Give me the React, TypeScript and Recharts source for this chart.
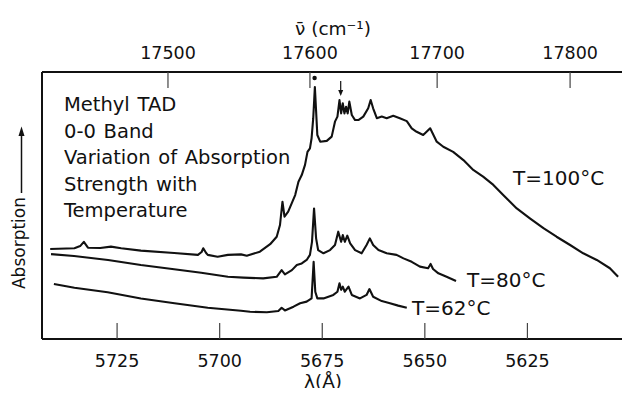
import React from 'react';
import { LineChart, Line, XAxis, YAxis } from 'recharts';

const FONT = '"DejaVu Sans", sans-serif';
const INK = '#111';

// wavelength (Å) and absorption (arb. units, 0..100 = frame height)
const lam100 = [5741.3, 5735.4, 5734.0, 5733.1, 5732.1, 5729.1, 5726.5, 5724.0, 5719.2, 5711.1, 5705.3, 5704.4, 5704.0, 5703.3, 5702.9, 5700.5, 5698.0, 5694.8, 5693.4, 5690.2, 5687.7, 5686.1, 5685.3, 5684.7, 5684.2, 5683.3, 5681.6, 5680.8, 5680.0, 5679.2, 5678.6, 5678.0, 5677.6, 5677.2, 5676.8, 5676.2, 5675.5, 5673.9, 5672.7, 5671.9, 5671.3, 5670.8, 5670.4, 5670.0, 5669.6, 5669.2, 5668.8, 5668.4, 5667.8, 5667.0, 5666.2, 5665.0, 5663.8, 5663.2, 5662.6, 5661.7, 5660.5, 5659.3, 5657.7, 5656.1, 5654.4, 5653.2, 5652.0, 5650.4, 5648.7, 5647.1, 5645.5, 5643.1, 5640.6, 5638.2, 5635.8, 5633.3, 5630.9, 5627.6, 5624.4, 5621.1, 5617.9, 5614.6, 5611.4, 5608.1, 5604.9, 5602.9];
const abs100 = [33.7, 34.0, 34.8, 36.4, 34.2, 34.1, 34.6, 34.0, 33.1, 32.2, 31.5, 32.6, 34.0, 32.2, 31.5, 30.8, 31.5, 31.7, 31.2, 32.7, 35.5, 38.3, 42.7, 51.4, 45.8, 47.7, 53.9, 58.9, 61.4, 65.2, 70.1, 71.4, 75.2, 82.7, 94.4, 76.4, 73.9, 74.2, 75.8, 81.4, 83.3, 89.5, 84.5, 88.3, 84.5, 87.0, 84.5, 88.9, 83.9, 82.0, 82.0, 83.3, 86.4, 89.5, 86.4, 82.7, 83.3, 82.7, 83.6, 82.7, 81.6, 78.9, 77.6, 76.4, 78.9, 73.9, 72.0, 70.1, 67.0, 63.3, 60.8, 57.7, 53.9, 48.9, 45.2, 41.5, 38.3, 35.2, 32.1, 29.6, 26.5, 23.3];

const lam80 = [5741.1, 5735.5, 5727.2, 5719.2, 5711.1, 5704.5, 5698.0, 5694.2, 5689.4, 5686.1, 5684.9, 5684.1, 5682.4, 5681.2, 5680.0, 5678.8, 5678.0, 5677.5, 5677.0, 5676.5, 5676.0, 5674.7, 5673.1, 5671.9, 5671.1, 5670.4, 5670.0, 5669.5, 5668.9, 5668.2, 5667.0, 5665.4, 5664.2, 5663.4, 5662.6, 5661.3, 5659.3, 5656.9, 5655.2, 5653.2, 5651.2, 5649.2, 5648.6, 5648.0, 5646.7, 5644.7, 5642.4];
const abs80 = [31.8, 31.1, 29.6, 27.7, 26.1, 24.8, 23.3, 23.0, 22.7, 23.3, 25.8, 24.2, 25.8, 27.7, 28.3, 29.6, 31.5, 36.4, 48.9, 37.7, 33.3, 32.1, 33.3, 35.2, 40.2, 36.4, 38.9, 36.4, 38.7, 35.8, 33.3, 32.1, 35.2, 37.7, 35.2, 33.3, 32.1, 31.5, 30.2, 28.9, 27.1, 26.5, 28.1, 26.2, 24.6, 23.3, 21.7];

const lam62 = [5740.4, 5735.4, 5727.3, 5719.2, 5711.0, 5702.9, 5694.8, 5692.6, 5688.5, 5685.7, 5684.9, 5684.1, 5682.0, 5680.4, 5678.8, 5677.6, 5677.1, 5676.7, 5676.2, 5674.7, 5672.3, 5671.3, 5670.8, 5670.4, 5670.0, 5669.5, 5668.6, 5667.8, 5665.8, 5664.2, 5663.5, 5662.6, 5660.5, 5658.5, 5656.5, 5654.4];
const abs62 = [20.6, 19.2, 17.5, 15.2, 13.4, 11.7, 10.6, 10.2, 10.0, 10.5, 11.7, 10.7, 12.1, 13.4, 14.0, 15.2, 28.9, 17.7, 15.2, 15.2, 16.5, 17.7, 20.9, 18.4, 19.6, 17.7, 19.6, 16.5, 15.2, 16.5, 18.7, 15.8, 14.2, 13.4, 12.5, 11.7];

const lamTicks = [5725, 5700, 5675, 5650, 5625];
// wavenumber labels of the top scale and the wavelengths where their ticks sit
const nuLabels = ['17500', '17600', '17700', '17800'];
const nuTickLam = [5712.6, 5678.0, 5647.0, 5614.6];
const noteLines = ['Methyl TAD', '0-0 Band', 'Variation of Absorption', 'Strength with', 'Temperature'];
const seriesLabels = ['T=100°C', 'T=80°C', 'T=62°C'];

const toPoints = (lam: number[], abs: number[]) => lam.map((l, i) => ({ lam: l, a: abs[i] }));

const curves = [
  { key: 't100', axis: 'top', data: toPoints(lam100, abs100) },
  { key: 't80', axis: 'lam', data: toPoints(lam80, abs80) },
  { key: 't62', axis: 'lam', data: toPoints(lam62, abs62) },
];

const W = 622;
const H = 388;
const LAM_DOMAIN: [number, number] = [5600, 5743.3];

const Overlay = () => (
  <svg
    width={W}
    height={H}
    style={{ position: 'absolute', left: 0, top: 0, pointerEvents: 'none', overflow: 'visible' }}
    fontFamily={FONT}
    fill={INK}
  >
    {/* axis titles */}
    <text x={325} y={27} fontSize={18.5} textAnchor="middle">{'\u03BD\u0304 (cm\u207B\u00B9)'}</text>
    <text x={315} y={380} fontSize={18.5} textAnchor="middle">λ(Å)</text>
    <text
      x={11}
      y={235}
      fontSize={17}
      textAnchor="middle"
      dominantBaseline="central"
      transform="rotate(-90 11 235)"
    >
      Absorption
    </text>
    <line x1={13.5} y1={185} x2={13.5} y2={126} stroke={INK} strokeWidth={1.5} />
    <polygon points="13.5,118.5 10.5,128 16.5,128" />

    {/* description */}
    {noteLines.map((t, i) => (
      <text key={t} x={56} y={103 + i * 26.5} fontSize={19.5} wordSpacing={1.5}>{t}</text>
    ))}

    {/* series labels */}
    <text x={505} y={177} fontSize={20}>{seriesLabels[0]}</text>
    <text x={459} y={279} fontSize={20}>{seriesLabels[1]}</text>
    <text x={404} y={307} fontSize={20}>{seriesLabels[2]}</text>

    {/* markers above the peaks */}
    <circle cx={306.6} cy={70} r={2.2} />
    <line x1={332.7} y1={73} x2={332.7} y2={84} stroke={INK} strokeWidth={1.2} />
    <polygon points="332.7,88 330.2,82 335.2,82" />
  </svg>
);

const axisCommon = {
  type: 'number' as const,
  dataKey: 'lam',
  domain: LAM_DOMAIN,
  reversed: true,
  allowDataOverflow: true,
  tickSize: -16,
  axisLine: { stroke: INK, strokeWidth: 2 },
  tickLine: { stroke: '#444', strokeWidth: 1.2 },
  tick: { fill: INK, fontSize: 17.5, fontFamily: FONT },
};

export default function App() {
  return (
    <div style={{ position: 'relative', width: W, height: H, marginBottom: -8 }}>
      <LineChart width={W} height={H} margin={{ top: 0, right: 0, bottom: 0, left: 0 }}>
        <XAxis {...axisCommon} xAxisId="lam" ticks={lamTicks} height={57} tickMargin={32} />
        <XAxis
          {...axisCommon}
          xAxisId="top"
          orientation="top"
          ticks={nuTickLam}
          tickFormatter={(v: number) => nuLabels[nuTickLam.indexOf(v)] ?? ''}
          height={64}
          tickMargin={29}
        />
        <YAxis
          type="number"
          domain={[0, 100]}
          allowDataOverflow
          width={34}
          tick={false}
          tickLine={false}
          axisLine={{ stroke: INK, strokeWidth: 2 }}
        />
        {curves.map((c) => (
          <Line
            key={c.key}
            xAxisId={c.axis}
            data={c.data}
            dataKey="a"
            type="linear"
            stroke={INK}
            strokeWidth={2.1}
            strokeLinejoin="round"
            dot={false}
            activeDot={false}
            isAnimationActive={false}
          />
        ))}
      </LineChart>
      <Overlay />
    </div>
  );
}
